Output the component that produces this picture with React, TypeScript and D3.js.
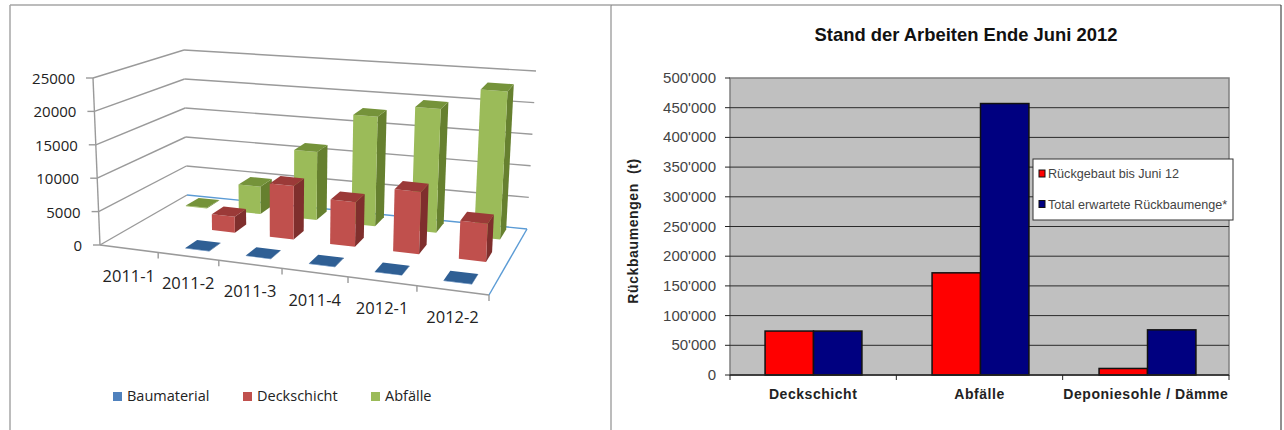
import React from "react";
import * as d3 from "d3";

// Left panel: quarterly quantities per material
const periods = ["2011-1", "2011-2", "2011-3", "2011-4", "2012-1", "2012-2"];
const materials = ["Baumaterial", "Deckschicht", "Abfälle"];
const baumaterial = [null, 60, 60, 60, 60, 60];
const deckschicht = [null, 2500, 8300, 6800, 9400, 5700];
const abfaelle = [100, 4500, 11000, 17500, 19500, 23000];
const depthTicks = [0, 5000, 10000, 15000, 20000, 25000];

// Right panel: state of the works
const sections = ["Deckschicht", "Abfälle", "Deponiesohle / Dämme"];
const rueckgebaut = [74000, 172000, 11000];
const totalErwartet = [74000, 457000, 76000];
const volumeTicks = [0, 50000, 100000, 150000, 200000, 250000, 300000, 350000, 400000, 450000, 500000];
const legendRight = ["Rückgebaut bis Juni 12", "Total erwartete Rückbaumenge*"];

const materialColors = [
  { front: "#4F81BD", side: "#2F5A8C", top: "#2F5F94" },
  { front: "#C0504D", side: "#7F2F2D", top: "#9B3A38" },
  { front: "#9BBB59", side: "#66802F", top: "#75933A" },
];
const sans = "'Open Sans', 'Noto Sans', sans-serif";
const arial = "'Liberation Sans', Arial, sans-serif";

type P = [number, number];
const lerp = (a: P, b: P, t: number): P => [a[0] + (b[0] - a[0]) * t, a[1] + (b[1] - a[1]) * t];

// Box corners of the 3D plot on screen
const floor = { fl: [100, 245] as P, fr: [489, 295] as P, bl: [187, 195] as P, br: [527, 229] as P };
const ceil = { fl: [93, 78] as P, fr: [497, 118] as P, bl: [184, 50] as P, br: [536, 71] as P };

const warpU = (u: number) => u / (u + 1.137 * (1 - u));

function project(u: number, v: number, h: number): P {
  const uu = warpU(u);
  const bottom = lerp(lerp(floor.fl, floor.fr, uu), lerp(floor.bl, floor.br, uu), v);
  const top = lerp(lerp(ceil.fl, ceil.fr, uu), lerp(ceil.bl, ceil.br, uu), v);
  return lerp(bottom, top, h);
}
const poly = (pts: P[]) => pts.map((p) => p.map((n) => n.toFixed(1)).join(",")).join(" ");

function Chart3D() {
  const h = d3.scaleLinear().domain([0, 25000]).range([0, 1]);
  const uBand = d3.scaleBand<string>().domain(periods).range([0, 1]).paddingInner(0.6).paddingOuter(0.3);
  const vBand = d3.scaleBand<string>().domain(materials).range([0.05, 1.03]).paddingInner(0.56).paddingOuter(0.2);
  const line = (a: P, b: P, color: string, w = 1.4) => (
    <line x1={a[0]} y1={a[1]} x2={b[0]} y2={b[1]} stroke={color} strokeWidth={w} />
  );
  const grid = "#9a9a9a";
  const blue = "#5B9BD5";
  const seriesData = [baumaterial, deckschicht, abfaelle];

  return (
    <g>
      {/* walls */}
      {depthTicks.map((t) => {
        const y = h(t);
        const isBase = t === 0;
        const corner = project(0, 0, y);
        return (
          <g key={t}>
            {line(corner, project(0, 1, y), grid)}
            {line(project(0, 1, y), project(1, 1, y), isBase ? blue : grid)}
            {line(corner, [corner[0] - 7, corner[1]], grid)}
            <text x={corner[0] - 18} y={corner[1] + 6} textAnchor="end" fontFamily={sans} fontSize={15} fill="#222">
              {t}
            </text>
          </g>
        );
      })}
      {line(project(0, 0, 0), project(0, 0, 1), grid)}
      {line(project(1, 0, 0), project(1, 1, 0), blue)}
      {line(project(0, 0, 0), project(1, 0, 0), grid, 1.6)}
      {periods.map((p, i) => {
        const tick = project((i + 1) / periods.length, 0, 0);
        const at = project((i + 0.5) / periods.length, 0, 0);
        return (
          <g key={p}>
            {line(tick, [tick[0], tick[1] + 6], grid)}
            <text x={at[0]} y={at[1] + 33} textAnchor="middle" fontFamily={sans} fontSize={16.5} fill="#222">
              {p}
            </text>
          </g>
        );
      })}

      {/* bars, furthest row first */}
      {[2, 1, 0].map((s) =>
        periods.map((p, i) => {
          const value = seriesData[s][i];
          if (value === null) return null;
          const u0 = uBand(p)!;
          const u1 = u0 + uBand.bandwidth();
          const v0 = vBand(materials[s])!;
          const v1 = v0 + vBand.bandwidth();
          const t = h(value);
          const c = materialColors[s];
          return (
            <g key={`${s}-${p}`}>
              <polygon
                points={poly([project(u1, v0, 0), project(u1, v1, 0), project(u1, v1, t), project(u1, v0, t)])}
                fill={c.side}
              />
              <polygon
                points={poly([project(u0, v0, 0), project(u1, v0, 0), project(u1, v0, t), project(u0, v0, t)])}
                fill={c.front}
              />
              <polygon
                points={poly([project(u0, v0, t), project(u1, v0, t), project(u1, v1, t), project(u0, v1, t)])}
                fill={c.top}
              />
            </g>
          );
        })
      )}

      {/* legend */}
      {materials.map((m, i) => {
        const xs = [113, 243, 371];
        return (
          <g key={m}>
            <rect x={xs[i]} y={392} width={9} height={9} fill={materialColors[i].front} />
            <text x={xs[i] + 14} y={401} fontFamily={sans} fontSize={14.5} fill="#222">
              {m}
            </text>
          </g>
        );
      })}
    </g>
  );
}

function ChartBars() {
  const left = 730;
  const right = 1229;
  const top = 78;
  const bottom = 375;
  const y = d3.scaleLinear().domain([0, 500000]).range([bottom, top]);
  const x = d3.scaleBand<string>().domain(sections).range([left, right + 2]).paddingInner(0.42).paddingOuter(0.21);
  const fmt = (v: number) => d3.format(",")(v).replace(/,/g, "'");
  const bw = x.bandwidth() / 2;

  return (
    <g fontFamily={arial}>
      <text x={966} y={41} textAnchor="middle" fontWeight="bold" fontSize={18.4} fill="#111">
        Stand der Arbeiten Ende Juni 2012
      </text>
      <rect x={left} y={top} width={right - left} height={bottom - top} fill="#C0C0C0" stroke="#808080" strokeWidth={1.5} />
      {volumeTicks.map((t) => (
        <g key={t}>
          {t > 0 && t < 500000 && <line x1={left} x2={right} y1={y(t)} y2={y(t)} stroke="#2a2a2a" strokeWidth={1} />}
          <line x1={left - 5} x2={left} y1={y(t)} y2={y(t)} stroke="#222" />
          <text x={left - 14} y={y(t) + 5} textAnchor="end" fontSize={15} fill="#444">
            {fmt(t)}
          </text>
        </g>
      ))}
      {sections.map((s, i) => (
        <g key={s}>
          <rect x={x(s)!} y={y(rueckgebaut[i])} width={bw} height={bottom - y(rueckgebaut[i])} fill="#FF0000" stroke="#111" strokeWidth={1.5} />
          <rect x={x(s)! + bw} y={y(totalErwartet[i])} width={bw} height={bottom - y(totalErwartet[i])} fill="#000080" stroke="#111" strokeWidth={1.5} />
          <text x={left + ((right - left) / 3) * (i + 0.5)} y={399} textAnchor="middle" fontWeight="bold" fontSize={14} letterSpacing={0.55} fill="#222">
            {s}
          </text>
        </g>
      ))}
      <line x1={left} x2={right} y1={bottom} y2={bottom} stroke="#222" strokeWidth={1.5} />
      {d3.range(sections.length + 1).map((i) => {
        const tx = left + ((right - left) / 3) * i;
        return <line key={i} x1={tx} x2={tx} y1={bottom} y2={bottom + 5} stroke="#222" />;
      })}
      <text
        transform="translate(638,231) rotate(-90)"
        textAnchor="middle"
        fontWeight="bold"
        fontSize={14}
        letterSpacing={0.6}
        fill="#222"
        style={{ whiteSpace: "pre" }}
      >
        {"Rückbaumengen  (t)"}
      </text>
      <rect x={1033} y={159} width={200} height={61} fill="#fff" stroke="#333" strokeWidth={1} />
      {legendRight.map((l, i) => (
        <g key={l}>
          <rect x={1039} y={170 + i * 30.5} width={6} height={7} fill={i === 0 ? "#FF0000" : "#000080"} stroke="#111" />
          <text x={1048} y={178 + i * 30.5} fontSize={12.6} fill="#444">
            {l}
          </text>
        </g>
      ))}
    </g>
  );
}

export default function App() {
  return (
    <svg width={1284} height={430} style={{ position: "absolute", left: 0, top: 0, background: "#fff" }}>
      <line x1={10} x2={10} y1={5} y2={430} stroke="#a6a6a6" strokeWidth={1.5} />
      <line x1={611} x2={611} y1={5} y2={430} stroke="#a6a6a6" strokeWidth={1.5} />
      <line x1={10} x2={611} y1={5} y2={5} stroke="#a6a6a6" strokeWidth={1.5} />
      <line x1={611} x2={1281} y1={5} y2={5} stroke="#777" strokeWidth={1} />
      <line x1={1281} x2={1281} y1={5} y2={430} stroke="#222" strokeWidth={1} />
      <Chart3D />
      <ChartBars />
    </svg>
  );
}
